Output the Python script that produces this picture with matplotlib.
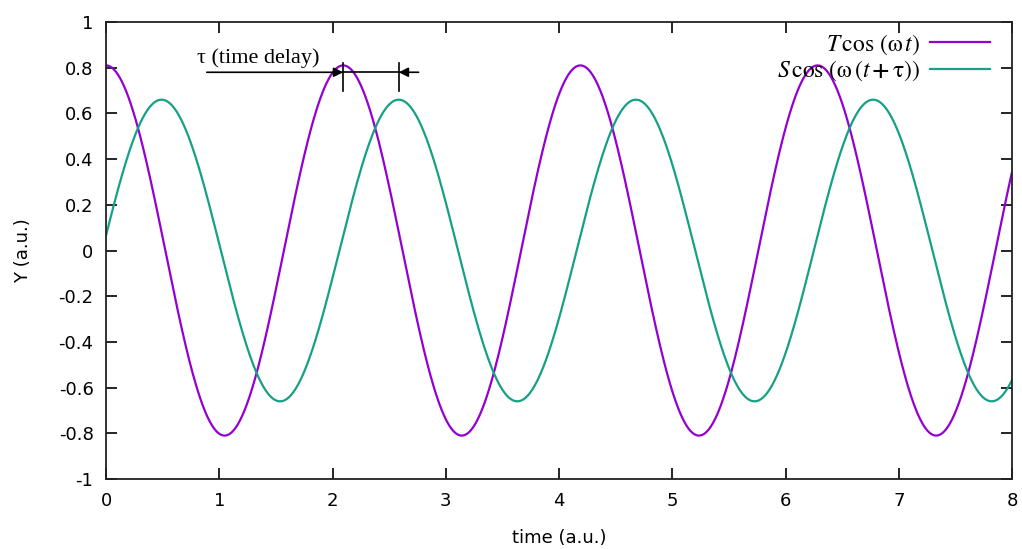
import numpy as np
import matplotlib.pyplot as plt

# curve parameters
amp_T = 0.81
amp_S = 0.66
omega = 3.0
tau = 1.604
t_range = [0.0, 8.0]

x_ticks = [0, 1, 2, 3, 4, 5, 6, 7, 8]
y_ticks = [-1, -0.8, -0.6, -0.4, -0.2, 0, 0.2, 0.4, 0.6, 0.8, 1]
y_tick_labels = ['-1', '-0.8', '-0.6', '-0.4', '-0.2', '0', '0.2', '0.4', '0.6', '0.8', '1']

plt.rcParams['mathtext.fontset'] = 'stix'

t = np.linspace(t_range[0], t_range[1], 2000)
y_T = amp_T * np.cos(omega * t)
y_S = amp_S * np.cos(omega * (t + tau))

fig = plt.figure(figsize=(10.22, 5.49), dpi=100)
ax = fig.add_axes([106 / 1022, 1 - 479 / 549, (1012 - 106) / 1022, (479 - 22) / 549])

ax.plot(t, y_T, color='#9400d3', lw=1.6, label=r'$T\,\cos\,(\mathrm{ω}\, t)$')
ax.plot(t, y_S, color='#16a085', lw=1.6, label=r'$S\,\cos\,(\mathrm{ω}\,(t\, \mathbf{+}\, \mathrm{τ}))$')

ax.set_xlim(t_range)
ax.set_ylim(-1, 1)
ax.set_xticks(x_ticks)
ax.set_yticks(y_ticks)
ax.set_yticklabels(y_tick_labels)
ax.tick_params(direction='in', length=8, width=1.2, top=True, right=True,
               labelsize=13, pad=9)
for sp in ax.spines.values():
    sp.set_linewidth(1.3)
    sp.set_color('#222222')

ax.set_xlabel('time (a.u.)', fontsize=13, labelpad=14)
ax.set_ylabel('Y (a.u.)', fontsize=13, labelpad=19)

# time delay marker between the second peaks
period = 2 * np.pi / omega
t_peak_T = period
t_peak_S = 2 * period - tau
y_arrow = 0.78
ax.annotate('', xy=(t_peak_T, y_arrow), xytext=(0.89, y_arrow),
            arrowprops=dict(arrowstyle='-|>', color='black', lw=1.2,
                            mutation_scale=14, shrinkA=0, shrinkB=0))
ax.plot([t_peak_T, t_peak_S], [y_arrow, y_arrow], color='black', lw=1.2)
ax.annotate('', xy=(t_peak_S, y_arrow), xytext=(2.76, y_arrow),
            arrowprops=dict(arrowstyle='-|>', color='black', lw=1.2,
                            mutation_scale=14, shrinkA=0, shrinkB=0))
for tx in (t_peak_T, t_peak_S):
    ax.plot([tx, tx], [0.70, 0.82], color='black', lw=1.2)
ax.text(0.80, 0.80, 'τ (time delay)', fontsize=16, family='Liberation Serif',
        va='bottom', ha='left')

ax.legend(loc='upper right', frameon=False, markerfirst=False, fontsize=17,
          handlelength=2.55, handletextpad=0.42, labelspacing=0.05,
          borderaxespad=0.0, bbox_to_anchor=(0.986, 1.0))

fig.savefig('out.png', dpi=100)
